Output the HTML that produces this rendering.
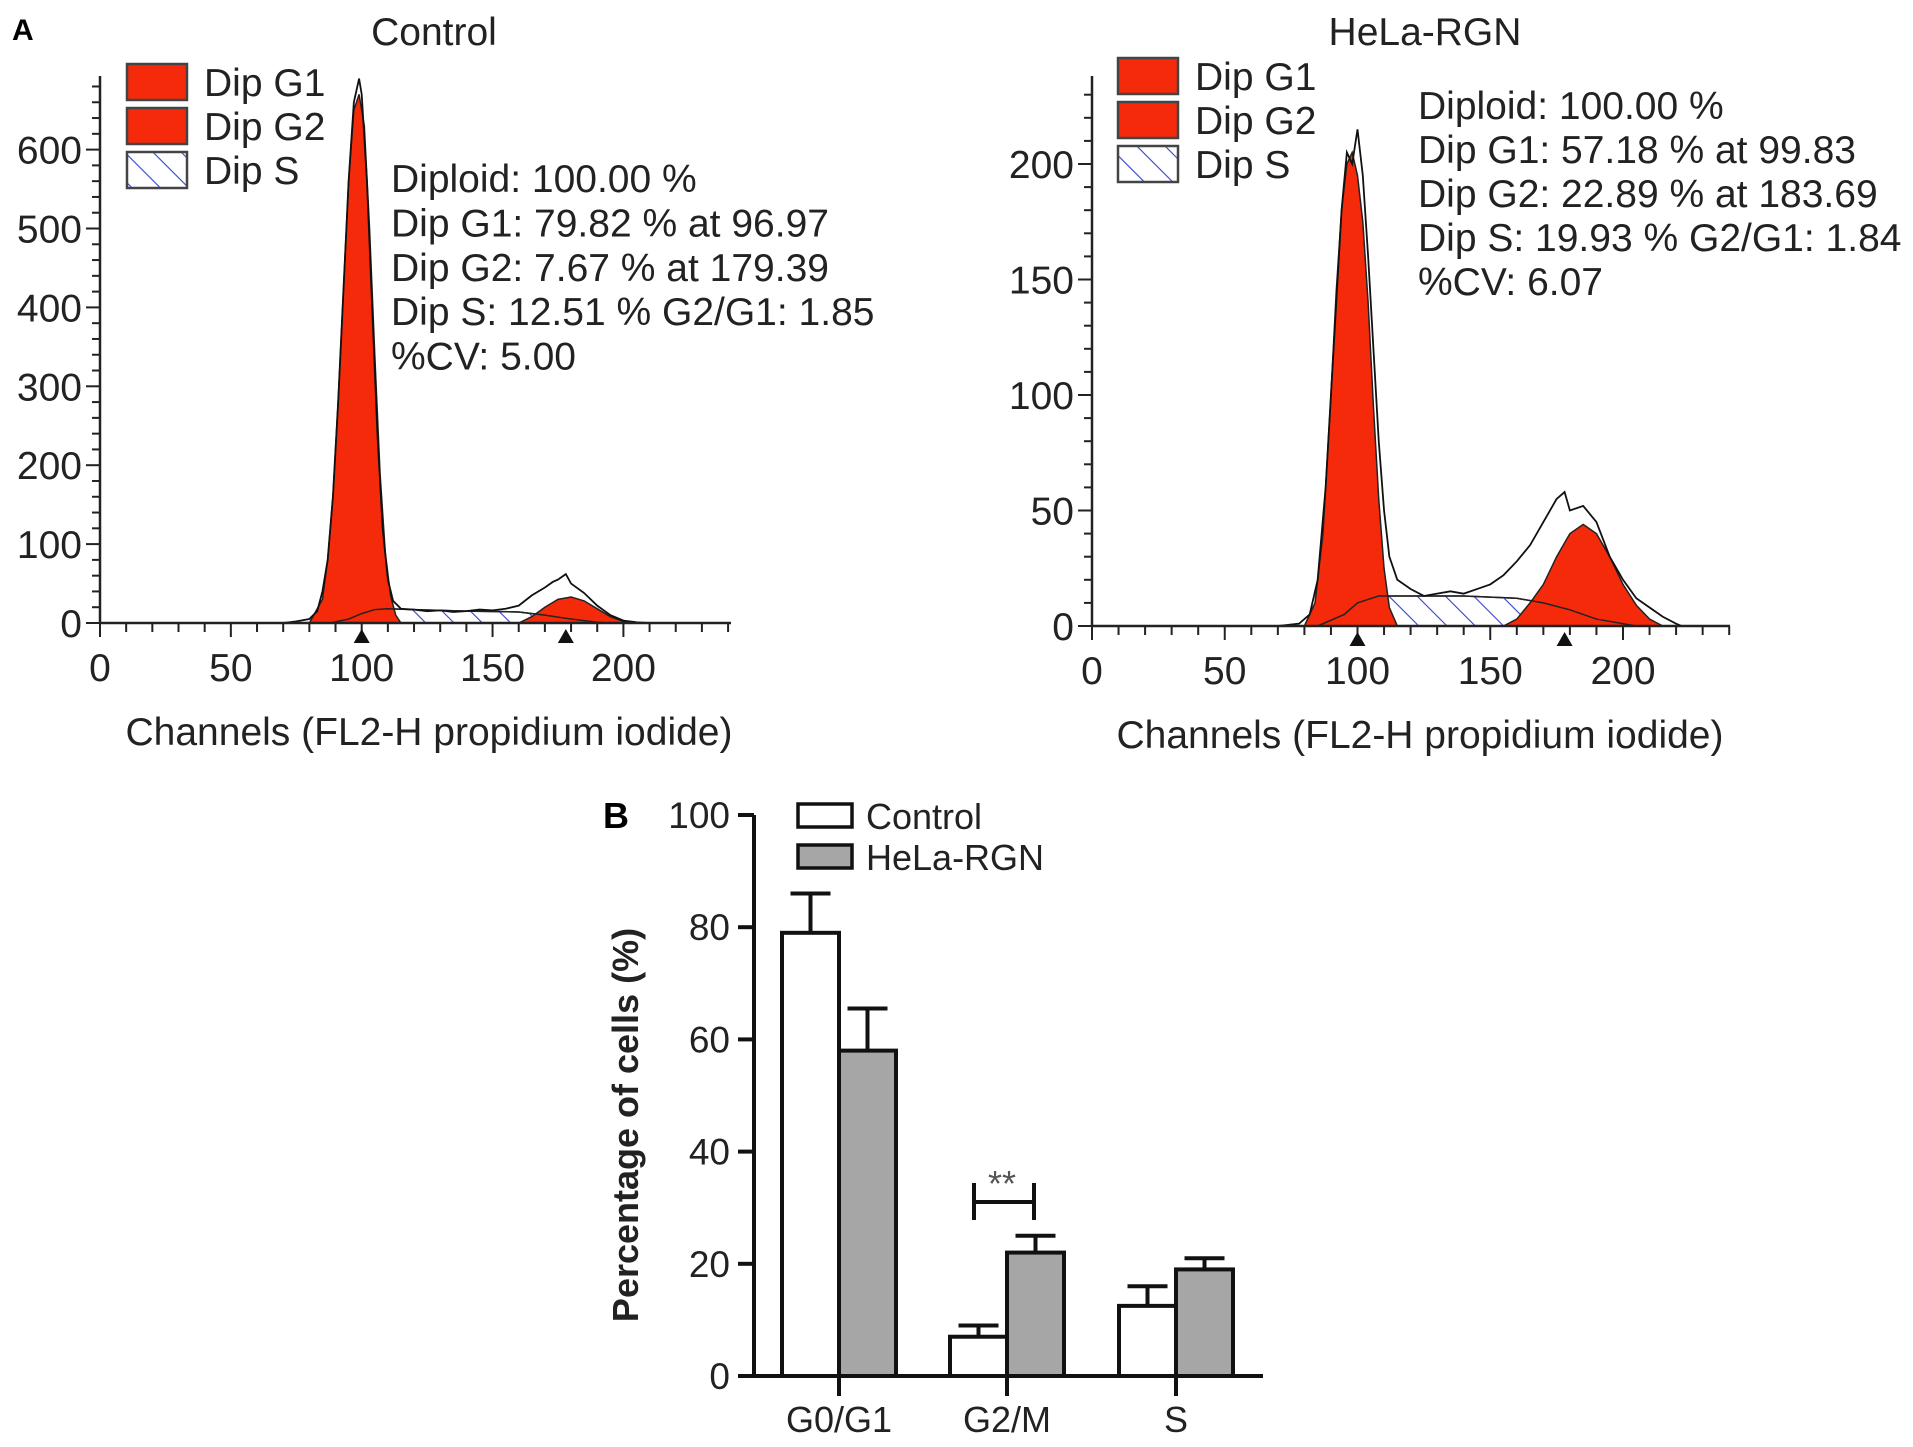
<!DOCTYPE html>
<html><head><meta charset="utf-8">
<style>
html,body{margin:0;padding:0;background:#fff;}
svg{display:block;font-family:"Liberation Sans",Arial,sans-serif;}
</style></head>
<body>
<svg id="fig" width="1913" height="1447" viewBox="0 0 1913 1447" xmlns="http://www.w3.org/2000/svg">
<defs>
<pattern id="hatch" patternUnits="userSpaceOnUse" width="20" height="20" patternTransform="rotate(-45)">
<rect width="20" height="20" fill="#fff"/>
<line x1="0" y1="0" x2="0" y2="20" stroke="#3344cc" stroke-width="2.2"/>
</pattern>
</defs>
<text x="12" y="40" font-size="30" font-weight="bold">A</text>
<text x="603" y="828" font-size="36" font-weight="bold">B</text>
<g id="left"></g>
<g id="right"></g>
<g id="bars"></g>
</svg>
<script>
// ---------- Panel A data ----------
const ctrlEnvCh = [70,75,80,83,85,87,89,91,93,95,97,98,99,100,102,104,106,108,110,112,115,120,125,130,135,140,145,150,155,160,165,170,173,175,178,180,185,190,195,200,205,210];
const ctrlEnvV  = [0,2,5,15,40,80,160,280,420,560,660,675,690,670,560,400,240,120,55,28,18,17,15,16,14,15,17,16,18,22,35,45,52,55,62,50,38,22,10,3,1,0];
const ctrlG1Ch = [80,85,87,89,91,93,95,97,99,101,103,105,107,109,111,113,115];
const ctrlG1V  = [0,30,80,160,280,420,560,650,670,630,500,340,190,90,35,10,0];
const ctrlG2Ch = [160,165,170,175,180,185,190,195,200,205];
const ctrlG2V  = [0,8,20,30,33,28,18,8,2,0];
const ctrlSCh = [88,95,100,105,110,120,140,160,170,180,190,195];
const ctrlSV  = [0,5,12,17,18,17,15,14,10,5,1,0];
const ctrlStats = ["Diploid: 100.00 %","Dip G1: 79.82 % at 96.97","Dip G2: 7.67 % at 179.39","Dip S: 12.51 % G2/G1: 1.85","%CV: 5.00"];
const ctrlYTicks = [0,100,200,300,400,500,600];

const helaEnvCh = [70,78,82,85,88,90,92,94,96,98,100,102,104,106,108,110,112,115,120,125,130,135,140,145,150,155,160,165,170,175,178,180,185,190,195,200,205,210,215,220,222];
const helaEnvV  = [0,1,5,20,60,100,140,180,205,200,215,195,160,120,80,50,30,20,16,13,14,15,14,16,18,22,28,35,45,55,58,50,52,45,30,20,12,8,4,1,0];
const helaG1Ch = [80,84,87,90,92,94,96,98,100,102,104,106,108,110,112,115];
const helaG1V  = [0,10,40,100,145,180,200,205,195,175,140,95,55,25,8,0];
const helaG2Ch = [155,160,165,170,175,180,185,190,195,200,205,210,215];
const helaG2V  = [0,3,10,18,30,40,44,40,30,18,9,3,0];
const helaSCh = [85,95,100,108,115,140,160,170,180,190,200,205];
const helaSV  = [0,5,10,13,13,13,12,10,7,3,1,0];
const helaStats = ["Diploid: 100.00 %","Dip G1: 57.18 % at 99.83","Dip G2: 22.89 % at 183.69","Dip S: 19.93 % G2/G1: 1.84","%CV: 6.07"];
const helaYTicks = [0,50,100,150,200];
const xTicks = [0,50,100,150,200];
const peakMarks = [100,178];

// ---------- Panel B data ----------
const categories = ["G0/G1","G2/M","S"];
const controlVals = [79,7,12.5];
const helaVals = [58,22,19];
const controlErr = [7,2,3.5];
const helaErr = [7.5,3,2];
const barYTicks = [0,20,40,60,80,100];

const NS="http://www.w3.org/2000/svg";
function mk(parent,tag,attrs,text){const e=document.createElementNS(NS,tag);for(const k in attrs)e.setAttribute(k,attrs[k]);if(text!==undefined)e.textContent=text;parent.appendChild(e);return e;}

function histogram(g,cfg){
  const X=c=>cfg.x0+c*cfg.kx, Y=v=>cfg.y0-v*cfg.ky;
  const area=(ch,v)=>{let d="M"+X(ch[0])+","+Y(0);ch.forEach((c,i)=>d+=" L"+X(c)+","+Y(v[i]));d+=" L"+X(ch[ch.length-1])+","+Y(0)+" Z";return d;};
  const line=(ch,v)=>{let d="";ch.forEach((c,i)=>d+=(i?" L":"M")+X(c)+","+Y(v[i]));return d;};
  let e;
  e=mk(g,"path",{d:area(cfg.sCh,cfg.sV),fill:"url(#hatch)",stroke:"#222","stroke-width":1.5});
  
  e=mk(g,"path",{d:area(cfg.g1Ch,cfg.g1V),fill:"#f52a0a",stroke:"#222","stroke-width":1.5});
  
  e=mk(g,"path",{d:area(cfg.g2Ch,cfg.g2V),fill:"#f52a0a",stroke:"#222","stroke-width":1.5});
  
  e=mk(g,"path",{d:line(cfg.sCh,cfg.sV),fill:"none",stroke:"#222","stroke-width":1.5});
  
  e=mk(g,"path",{d:line(cfg.envCh,cfg.envV),fill:"none",stroke:"#111","stroke-width":1.8});
  
  e=mk(g,"line",{x1:cfg.x0,y1:cfg.y0,x2:cfg.xEnd,y2:cfg.y0,stroke:"#222","stroke-width":2.5});
  
  e=mk(g,"line",{x1:cfg.x0,y1:cfg.y0,x2:cfg.x0,y2:cfg.yTop,stroke:"#222","stroke-width":2.5});
  
  for(let c=0;X(c)<=cfg.xEnd+1;c+=10){mk(g,"line",{x1:X(c),y1:cfg.y0,x2:X(c),y2:cfg.y0+(c%50==0?14:9),stroke:"#222","stroke-width":2});}
  for(let v=0;Y(v)>=cfg.yTop-1;v+=cfg.minor){mk(g,"line",{x1:cfg.x0,y1:Y(v),x2:cfg.x0-(v%cfg.major==0?14:8),y2:Y(v),stroke:"#222","stroke-width":2});}
  xTicks.forEach(t=>{e=mk(g,"text",{x:X(t),y:cfg.y0+58,"font-size":39,"text-anchor":"middle",fill:"#222"},t);
    });
  cfg.yTicks.forEach(t=>{e=mk(g,"text",{x:cfg.x0-18,y:Y(t)+14,"font-size":39,"text-anchor":"end",fill:"#222"},t);
    });
  peakMarks.forEach(p=>{e=mk(g,"path",{d:`M${X(p)-8},${cfg.y0+20} L${X(p)+8},${cfg.y0+20} L${X(p)},${cfg.y0+6} Z`,fill:"#111"});
    });
  e=mk(g,"text",{x:cfg.titleX,y:45,"font-size":39,"text-anchor":"middle",fill:"#222"},cfg.title);
  
  e=mk(g,"text",{x:cfg.titleX-5,y:cfg.y0+122,"font-size":39,"text-anchor":"middle",fill:"#222"},"Channels (FL2-H propidium iodide)");
  
  const lg=[["Dip G1","#f52a0a"],["Dip G2","#f52a0a"],["Dip S","url(#hatch)"]];
  lg.forEach((l,i)=>{const y=cfg.legY+i*44;
    e=mk(g,"rect",{x:cfg.legX,y:y,width:60,height:36,fill:l[1],stroke:"#444","stroke-width":2.5});
    
    e=mk(g,"text",{x:cfg.legX+77,y:y+32,"font-size":39,fill:"#222"},l[0]);
    });
  cfg.stats.forEach((s,i)=>{e=mk(g,"text",{x:cfg.statX,y:cfg.statY+i*cfg.statDy,"font-size":39,fill:"#222"},s);
    });
}

histogram(document.getElementById("left"),{x0:100,kx:2.617,y0:623,ky:0.789,xEnd:731,yTop:76,minor:20,major:100,
  envCh:ctrlEnvCh,envV:ctrlEnvV,g1Ch:ctrlG1Ch,g1V:ctrlG1V,g2Ch:ctrlG2Ch,g2V:ctrlG2V,sCh:ctrlSCh,sV:ctrlSV,
  yTicks:ctrlYTicks,title:"Control",titleX:434,legX:127,legY:64,stats:ctrlStats,statX:391,statY:192,statDy:44.4});
histogram(document.getElementById("right"),{x0:1092,kx:2.655,y0:626,ky:2.31,xEnd:1730,yTop:76,minor:10,major:50,
  envCh:helaEnvCh,envV:helaEnvV,g1Ch:helaG1Ch,g1V:helaG1V,g2Ch:helaG2Ch,g2V:helaG2V,sCh:helaSCh,sV:helaSV,
  yTicks:helaYTicks,title:"HeLa-RGN",titleX:1425,legX:1118,legY:58,stats:helaStats,statX:1418,statY:119,statDy:44});

// ---------- Panel B ----------
(function(){
  const g=document.getElementById("bars");
  const ax=754, y0=1376, ky=5.61, xEnd=1263, groupC=[839,1007,1176], bw=57;
  const Y=v=>y0-v*ky;
  let e;
  function bar(cx,v,err,fill,name){
    e=mk(g,"line",{x1:cx,y1:Y(v),x2:cx,y2:Y(v+err),stroke:"#111","stroke-width":4});
    
    e=mk(g,"line",{x1:cx-20,y1:Y(v+err),x2:cx+20,y2:Y(v+err),stroke:"#111","stroke-width":4});
    
    e=mk(g,"rect",{x:cx-bw/2,y:Y(v),width:bw,height:v*ky,fill:fill,stroke:"#111","stroke-width":4});
    
  }
  categories.forEach((c,i)=>{
    bar(groupC[i]-bw/2,controlVals[i],controlErr[i],"#fff","bar-control-"+i);
    bar(groupC[i]+bw/2,helaVals[i],helaErr[i],"#a6a6a6","bar-hela-"+i);
    e=mk(g,"line",{x1:groupC[i],y1:y0,x2:groupC[i],y2:y0+20,stroke:"#111","stroke-width":4});
    
    e=mk(g,"text",{x:groupC[i],y:y0+56,"font-size":36,"text-anchor":"middle",fill:"#222"},c);
    
  });
  e=mk(g,"line",{x1:ax,y1:y0,x2:xEnd,y2:y0,stroke:"#111","stroke-width":4});
  
  e=mk(g,"line",{x1:ax,y1:y0+2,x2:ax,y2:Y(100),stroke:"#111","stroke-width":4});
  
  barYTicks.forEach(t=>{
    mk(g,"line",{x1:ax-16,y1:Y(t),x2:ax,y2:Y(t),stroke:"#111","stroke-width":4});
    e=mk(g,"text",{x:ax-24,y:Y(t)+13,"font-size":37,"text-anchor":"end",fill:"#222"},t);
    
  });
  e=mk(g,"text",{x:0,y:0,"font-size":36,"font-weight":"bold","text-anchor":"middle",fill:"#222",transform:"translate(638,1125) rotate(-90)"},"Percentage of cells (%)");
  
  [["Control","#fff"],["HeLa-RGN","#a6a6a6"]].forEach((l,i)=>{
    e=mk(g,"rect",{x:798,y:804+i*41,width:54,height:23,fill:l[1],stroke:"#111","stroke-width":3.5});
    
    e=mk(g,"text",{x:866,y:829+i*41,"font-size":36,fill:"#222"},l[0]);
    
  });
  e=mk(g,"path",{d:"M974,1183 L974,1220 M974,1202 L1034,1202 M1034,1183 L1034,1220",fill:"none",stroke:"#111","stroke-width":4});
  
  e=mk(g,"text",{x:1002,y:1196,"font-size":36,"text-anchor":"middle",fill:"#555"},"**");
  
})();
</script>
</body></html>
